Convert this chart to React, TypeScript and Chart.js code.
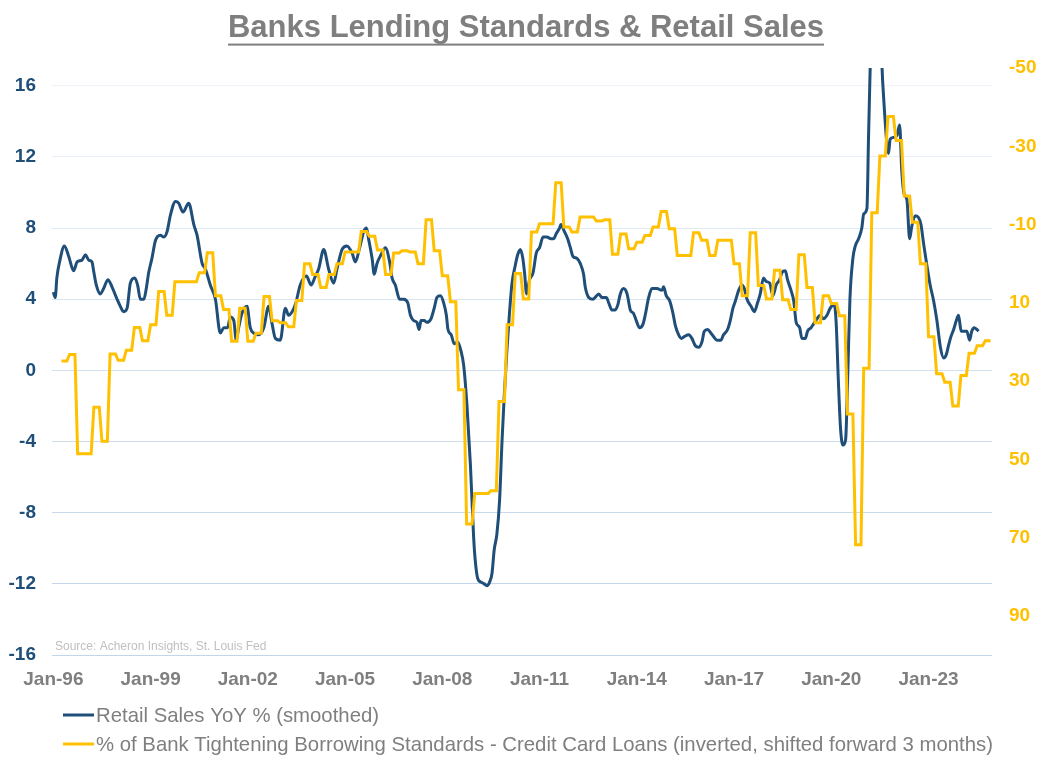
import React, { useEffect, useRef } from 'react';
import { Chart, registerables } from 'chart.js';

Chart.register(...registerables);

const TITLE = 'Banks Lending Standards & Retail Sales';
const SOURCE = 'Source: Acheron Insights, St. Louis Fed';
const SERIES_RETAIL = 'Retail Sales YoY % (smoothed)';
const SERIES_LENDING =
  '% of Bank Tightening Borrowing Standards - Credit Card Loans (inverted, shifted forward 3 months)';

// Retail sales YoY % (smoothed): months since Jan-1996 and values (left axis)
const retailMonths = [
  0, 0.7, 1.3, 2.3, 4.1, 5.7, 7.5, 8.8, 10.6, 11.9, 13.1, 14.3, 14.9, 15.9, 17.4, 18.6, 20.2, 21.7, 23.6, 24.8,
  26.0, 27.3, 28.5, 30.1, 31.2, 32.2, 33.5, 34.4, 35.3, 36.5, 37.8, 39.6, 40.9, 42.1, 43.3, 45.2, 46.4, 48.0,
  50.1, 52.0, 53.2, 55.1, 56.3, 58.1,
  60.0, 61.8, 63.1, 64.5, 65.5, 66.8, 67.7, 68.6, 69.8, 71.7, 72.9, 74.2, 76.0, 77.9, 79.7, 81.0, 82.2, 84.0,
  85.9, 87.1, 88.4, 89.6, 91.4, 93.7, 95.4, 97.0, 98.2, 100.1, 101.9, 103.8, 105.0, 106.9, 108.7, 110.6, 111.8,
  113.4, 114.9, 115.9,
  116.7, 118.0, 118.8, 119.8, 121.3, 122.9, 124.5, 125.4, 126.6, 128.2, 129.7, 131.2, 132.2, 133.4, 134.6,
  135.4, 136.1, 137.3, 138.3, 139.8, 141.0, 142.0, 143.3, 144.5, 145.5, 146.1, 147.3, 148.4, 149.7, 150.9,
  151.9, 153.1, 154.4, 155.6, 156.2, 157.1, 158.3, 159.5, 160.5, 161.5, 162.4, 163.2, 164.2, 165.2, 166.1,
  166.9, 167.9, 168.9, 169.8, 171.0, 171.9, 172.9, 173.8, 174.5,
  175.2, 176.3, 177.6, 178.8, 180.0, 181.3, 182.7, 184.2, 185.2, 186.2, 187.4, 187.9, 189.2, 190.4, 191.4,
  192.4, 193.8, 195.1, 196.3, 196.9, 198.2, 199.8, 200.6, 201.9, 203.1, 204.7, 205.6, 206.8, 208.0, 209.0,
  209.9, 211.1, 212.4, 213.6, 214.8, 215.8, 217.0, 218.3, 219.1, 220.4, 221.6, 223.5, 225.3, 225.9, 226.9,
  228.2, 229.4, 230.3, 231.5, 232.5,
  233.6, 235.2, 236.4, 237.6, 238.9, 240.1, 241.0, 242.2, 243.4, 244.4, 245.7, 247.1, 248.1, 249.6, 250.6,
  251.6, 252.5, 253.7, 254.9, 255.8, 256.8, 258.3, 259.5, 260.7, 261.7, 262.9, 263.9, 265.2, 266.4, 267.6,
  268.9, 269.7, 271.0, 271.8, 273.1, 274.1, 275.0, 276.3, 277.1, 278.4, 279.2, 280.5, 281.4, 282.7, 283.9,
  285.1, 286.4, 287.6, 289.1, 289.8, 290.6, 291.4, 292.3, 293.3, 294.2, 294.9,
  296.0, 296.9, 298.1, 299.3, 300.0, 301.2, 301.8, 302.4, 304.5, 306.8, 307.4, 308.6, 309.2, 309.8, 311.1,
  312.3, 312.9, 313.3, 314.1, 315.0, 316.0, 317.0, 317.8, 319.1, 320.3, 321.2, 322.2, 323.4, 324.6, 325.9,
  327.1, 328.4, 329.6, 330.6, 331.4, 332.3, 333.3, 334.3, 335.1, 336.1, 337.3, 338.2, 339.2, 340.0, 340.9,
  341.9, 342.5,
];
const retailValues = [
  4.4, 4.1, 5.2, 6.1, 7.0, 6.4, 5.6, 6.1, 6.2, 6.5, 6.2, 6.1, 5.6, 4.8, 4.3, 4.6, 5.1, 4.7, 4.0, 3.6,
  3.3, 3.5, 4.9, 5.2, 4.8, 4.0, 4.0, 4.6, 5.5, 6.3, 7.3, 7.6, 7.5, 7.8, 8.7, 9.5, 9.4, 8.9,
  9.4, 8.2, 7.6, 6.0, 5.7, 4.8,
  4.0, 2.1, 2.4, 2.4, 3.0, 2.8, 1.7, 2.4, 3.2, 3.6, 2.4, 2.1, 2.0, 2.4, 3.6, 2.6, 1.8, 1.7,
  3.5, 3.1, 3.3, 3.7, 4.8, 5.3, 4.8, 5.3, 5.7, 6.8, 5.7, 4.9, 5.7, 6.8, 7.0, 6.6, 6.1,
  6.9, 7.8, 8.0,
  7.4, 6.3, 5.4, 6.0, 6.5, 6.9, 6.1, 5.2, 4.8, 4.0, 4.0, 3.8, 3.1, 2.8, 2.7,
  2.3, 2.8, 2.8, 2.7, 2.9, 3.5, 4.1, 4.2, 3.8, 3.1, 2.3, 2.0, 1.5, 1.6, 1.1,
  0.3, -1.9, -5.3, -9.4, -10.7, -11.7, -11.9, -12.0, -12.1, -11.9, -11.4, -10.1, -9.2, -7.3, -4.0,
  -1.5, 1.1, 3.3, 4.9, 5.9, 6.5, 6.8, 6.3, 5.4,
  4.3, 5.1, 5.5, 6.6, 6.9, 7.5, 7.5, 7.4, 7.4, 7.7, 8.0, 8.2, 7.8, 7.4, 6.9,
  6.4, 6.3, 6.0, 5.4, 4.7, 4.1, 4.0, 4.1, 4.3, 4.1, 4.1, 3.8, 3.4, 3.4, 3.7,
  4.3, 4.6, 4.3, 3.4, 3.2, 2.8, 2.4, 2.6, 3.1, 4.1, 4.6, 4.6, 4.5, 4.7, 4.2,
  3.9, 3.2, 2.5, 2.0, 1.8,
  1.9, 2.0, 1.8, 1.4, 1.3, 1.6, 2.2, 2.3, 2.1, 1.9, 1.7, 1.7, 2.0, 2.3, 2.8,
  3.5, 3.9, 4.5, 4.8, 4.6, 4.0, 3.6, 3.3, 3.8, 4.3, 5.2, 5.0, 4.9, 4.2, 4.8,
  5.1, 5.5, 5.6, 5.1, 4.5, 3.9, 2.7, 2.4, 1.8, 1.8, 2.2, 2.4, 2.6, 2.9, 3.1,
  2.9, 3.1, 3.5, 3.7, 2.7, -0.5, -3.2, -4.2, -3.9, 0.3, 4.0,
  6.3, 7.0, 7.4, 8.0, 8.8, 9.1, 13.2, 17.0, 30.0, 17.0, 15.3, 12.7, 12.2, 13.0, 13.1,
  13.2, 13.6, 13.8, 11.2, 9.9, 9.6, 7.4, 8.1, 8.7, 8.6, 8.2, 7.1, 5.9, 4.8, 3.9,
  2.8, 1.3, 0.7, 0.9, 1.4, 1.9, 2.3, 2.8, 3.1, 2.2, 2.2, 2.2, 1.7, 2.2, 2.4,
  2.3, 2.2,
];

// Net % of banks tightening credit card standards, one value per quarter (right axis, inverted)
// first quarter plotted from Apr-96 (month 3)
const lendingStartMonth = 3;
const lendingQuarterly = [
  24.9, 23.2, 48.6, 48.6, 36.7, 45.4, 23.1, 24.7, 22.1, 16.3, 19.7, 15.6, 7.1, 13.2, 4.6, 4.6, 4.6, 2.3, -2.8,
  8.2, 11.7, 19.8, 11.4, 19.8, 17.8, 8.4, 14.6, 15.1, 16.1, 9.4, 0, 2.8, 6.1, 2.8, 0, -3.0, -3.0, -8.2, -7.0,
  -3.5, 2.8, -2.7, -3.3, -3.0, 0, -11.2, -3.3, 3.1, 9.7, 32.2, 66.5, 58.7, 58.7, 58.0, 35.2, 15.6, 2.5, 9.0,
  -8.1, -10.2, -10.2, -20.7, -9.4, -8.1, -11.9, -11.9, -10.9, -11.2, -2.4, -7.6, -3.8, -5.5, -7.2, -9.4, -13.3,
  -8.9, -2.1, -2.1, -7.9, -6.0, -2.1, -6.0, -6.0, 0, 8.2, -7.9, 5.6, 9.0, 1.7, 9.2, 11.7, -2.3, 6.1, 15.1, 8.2,
  10.2, 13.3, 38.4, 71.8, 26.7, -13.0, -27.5, -37.6, -31.5, -17.3, -10.6, 0, 18.7, 28.1, 30.3, 36.4, 28.6, 22.9,
  21.0, 19.7,
];

const xTickMonths = [0, 36, 72, 108, 144, 180, 216, 252, 288, 324];
const leftTicks = [-16, -12, -8, -4, 0, 4, 8, 12, 16];
const rightTicks = [-50, -30, -10, 10, 30, 50, 70, 90];

const NAVY = '#1f4e79';
const GOLD = '#ffc000';
const GRAY = '#7f7f7f';
const SANS = "'Liberation Sans', Arial, sans-serif";

const gridColors: Record<string, string> = {
  '16': '#eef3f9',
  '12': '#e8eff7',
  '8': '#e0eaf4',
  '4': '#d8e5f1',
  '0': '#d2e0ef',
  '-4': '#ccdcec',
  '-8': '#c8daeb',
  '-12': '#c4d7ea',
  '-16': '#c2d6e9',
};

const legendItems = [
  { text: SERIES_RETAIL, color: NAVY },
  { text: SERIES_LENDING, color: GOLD },
];

const decorPlugin = {
  id: 'decor',
  afterDraw(chart: any) {
    const ctx = chart.ctx as CanvasRenderingContext2D;
    const tb = chart.titleBlock;
    const area = chart.chartArea;
    ctx.save();
    // underline under the title
    ctx.font = `bold 31px ${SANS}`;
    const w = ctx.measureText(TITLE).width;
    const cx = (tb.left + tb.right) / 2;
    const y = tb.top + 10 + 18.6 + 15;
    ctx.fillStyle = GRAY;
    ctx.fillRect(cx - w / 2, y, w, 2);
    // source note
    ctx.font = `12px ${SANS}`;
    ctx.fillStyle = '#bfbfbf';
    ctx.textBaseline = 'middle';
    ctx.textAlign = 'left';
    ctx.fillText(SOURCE, area.left + 3, area.bottom - 8);
    // legend (condensed text)
    ctx.font = `21px ${SANS}`;
    const sx = 897 / ctx.measureText(SERIES_LENDING).width;
    legendItems.forEach((item, i) => {
      const ly = area.bottom + 60 + i * 29;
      const lx = area.left + 11;
      ctx.fillStyle = item.color;
      ctx.fillRect(lx, ly - 1.5, 31, 3);
      ctx.save();
      ctx.translate(lx + 33, ly);
      ctx.scale(sx, 1);
      ctx.fillStyle = GRAY;
      ctx.textBaseline = 'middle';
      ctx.textAlign = 'left';
      ctx.fillText(item.text, 0, 1);
      ctx.restore();
    });
    ctx.restore();
  },
};

export default function App() {
  const ref = useRef<HTMLCanvasElement>(null);

  useEffect(() => {
    const canvas = ref.current;
    if (!canvas) return;
    const retailData = retailMonths.map((m, i) => ({ x: m, y: retailValues[i] }));
    const lendingData: { x: number; y: number }[] = [];
    lendingQuarterly.forEach((v, j) => {
      for (let k = 0; k < 3; k++) lendingData.push({ x: lendingStartMonth + 3 * j + k, y: v });
    });

    const chart = new Chart(canvas, {
      type: 'line',
      data: {
        datasets: [
          {
            label: SERIES_RETAIL,
            data: retailData,
            yAxisID: 'y',
            borderColor: NAVY,
            backgroundColor: NAVY,
            borderWidth: 3,
            pointRadius: 0,
            cubicInterpolationMode: 'monotone',
            order: 1,
            clip: 0,
          } as any,
          {
            label: SERIES_LENDING,
            data: lendingData,
            yAxisID: 'y1',
            borderColor: GOLD,
            backgroundColor: GOLD,
            borderWidth: 3,
            pointRadius: 0,
            tension: 0,
            order: 0,
            clip: 0,
          } as any,
        ],
      },
      options: {
        responsive: false,
        animation: false,
        events: [],
        layout: { padding: { left: 0, right: 0, top: 0, bottom: 73 } },
        plugins: {
          title: {
            display: true,
            text: TITLE,
            color: GRAY,
            font: { family: SANS, size: 31, weight: 'bold' },
            padding: { top: 10, bottom: 20.8 },
          },
          legend: { display: false },
          tooltip: { enabled: false },
        },
        scales: {
          x: {
            type: 'linear',
            min: -0.5,
            max: 347.5,
            afterBuildTicks: (s: any) => {
              s.ticks = xTickMonths.map((v) => ({ value: v }));
            },
            afterFit: (s: any) => {
              s.height = 41;
            },
            ticks: {
              autoSkip: false,
              maxRotation: 0,
              color: GRAY,
              font: { family: SANS, size: 19, weight: 'bold' },
              padding: 13,
              callback: (v: any) => `Jan-${String((96 + Math.round(Number(v) / 12)) % 100).padStart(2, '0')}`,
            },
            grid: { display: false, drawTicks: false },
            border: { display: false },
          },
          y: {
            position: 'left',
            min: -16,
            max: 17,
            afterBuildTicks: (s: any) => {
              s.ticks = leftTicks.map((v) => ({ value: v }));
            },
            afterFit: (s: any) => {
              s.width = 52;
            },
            ticks: {
              color: NAVY,
              font: { family: SANS, size: 19, weight: 'bold' },
              padding: 16,
            },
            grid: {
              drawTicks: false,
              lineWidth: 1,
              color: (c: any) => gridColors[String(c.tick?.value)] || '#d2e0ef',
            },
            border: { display: false },
          },
          y1: {
            position: 'right',
            min: -50,
            max: 100,
            reverse: true,
            afterBuildTicks: (s: any) => {
              s.ticks = rightTicks.map((v) => ({ value: v }));
            },
            afterFit: (s: any) => {
              s.width = 60;
            },
            ticks: {
              color: GOLD,
              font: { family: SANS, size: 19, weight: 'bold' },
              padding: 17,
            },
            grid: { display: false, drawTicks: false },
            border: { display: false },
          },
        },
      } as any,
      plugins: [decorPlugin],
    });

    return () => chart.destroy();
  }, []);

  return (
    <div style={{ position: 'absolute', left: 0, top: 0, width: 1052, height: 769, background: '#ffffff' }}>
      <canvas ref={ref} width={1052} height={769} style={{ display: 'block' }} />
    </div>
  );
}
